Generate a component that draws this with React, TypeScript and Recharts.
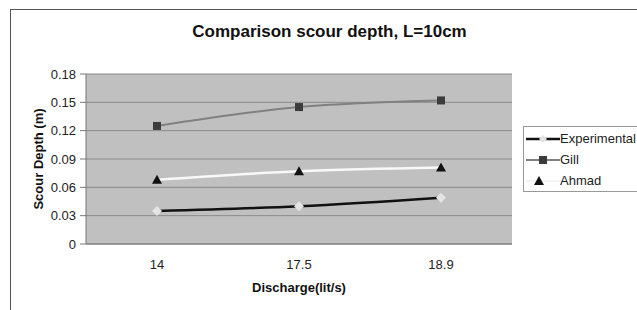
import { CartesianGrid, Line, LineChart, XAxis, YAxis } from 'recharts';

const discharge = ['14', '17.5', '18.9'];
const experimental = [0.035, 0.04, 0.049];
const gill = [0.125, 0.145, 0.152];
const ahmad = [0.068, 0.077, 0.081];
const yTicks = [0, 0.03, 0.06, 0.09, 0.12, 0.15, 0.18];
const bandTicks = [0, 1, 2, 3];

const data = discharge.map((q, i) => ({
  q,
  experimental: experimental[i],
  gill: gill[i],
  ahmad: ahmad[i],
}));

const FONT = '"Liberation Sans", Arial, sans-serif';

function diamond(props: any) {
  const { cx, cy } = props;
  return <polygon key={`d-${cx}`} points={`${cx},${cy - 5} ${cx + 5},${cy} ${cx},${cy + 5} ${cx - 5},${cy}`} fill="#e4e4e4" />;
}

function square(props: any) {
  const { cx, cy } = props;
  return <rect key={`s-${cx}`} x={cx - 4} y={cy - 4} width={8} height={8} fill="#3c3c3c" />;
}

function triangle(props: any) {
  const { cx, cy } = props;
  return <polygon key={`t-${cx}`} points={`${cx},${cy - 5} ${cx + 5},${cy + 4} ${cx - 5},${cy + 4}`} fill="#111" />;
}

function LegendBox() {
  const rows = [
    { name: 'Experimental', stroke: '#111', mark: (x: number, y: number) => <polygon points={`${x},${y - 4} ${x + 4},${y} ${x},${y + 4} ${x - 4},${y}`} fill="#e4e4e4" /> },
    { name: 'Gill', stroke: '#808080', mark: (x: number, y: number) => <rect x={x - 4} y={y - 4} width={8} height={8} fill="#3c3c3c" /> },
    { name: 'Ahmad', stroke: '#f4f4f4', mark: (x: number, y: number) => <polygon points={`${x - 4},${y - 5} ${x + 1},${y + 4} ${x - 9},${y + 4}`} fill="#111" /> },
  ];
  return (
    <div style={{ position: 'absolute', left: 523, top: 126, border: '1px solid #999', background: '#fff', width: 130, height: 64, fontFamily: FONT, fontSize: 13, color: '#222' }}>
      {rows.map((r, i) => (
        <div key={r.name} style={{ display: 'flex', alignItems: 'center', height: 21, marginTop: i === 0 ? 1 : 0 }}>
          <svg width={36} height={20}>
            <line x1={2} y1={10} x2={36} y2={10} stroke={r.stroke} strokeWidth={i === 0 ? 2.5 : 2} />
            {r.mark(19, 10)}
          </svg>
          <span>{r.name}</span>
        </div>
      ))}
    </div>
  );
}

export default function App() {
  return (
    <div style={{ position: 'absolute', left: 0, top: 0, width: 637, height: 310, overflow: 'hidden', background: '#fff' }}>
      <div style={{ position: 'absolute', left: 10, top: 9, width: 700, height: 400, border: '1px solid #555' }} />
      <div style={{ position: 'absolute', left: 0, top: 22, width: 659, textAlign: 'center', fontFamily: FONT, fontWeight: 'bold', fontSize: 17, color: '#111' }}>
        Comparison scour depth, L=10cm
      </div>
      <div style={{ position: 'absolute', left: 0, top: 0 }}>
        <LineChart width={637} height={310} data={data} margin={{ top: 74, right: 125, bottom: 10, left: 26 }}>
          <CartesianGrid vertical={false} fill="#c0c0c0" stroke="#8a8a8a" horizontalValues={yTicks} />
          <XAxis
            xAxisId="bands"
            type="number"
            domain={[0, 3]}
            ticks={bandTicks}
            tick={false}
            axisLine={false}
            tickSize={4}
            tickLine={{ stroke: '#666' }}
            height={0}
          />
          <XAxis
            dataKey="q"
            padding={{ left: 71, right: 71 }}
            tickLine={false}
            axisLine={{ stroke: '#777' }}
            tick={{ fill: '#222', fontSize: 13, fontFamily: FONT }}
            tickMargin={10}
            height={56}
            label={{ value: 'Discharge(lit/s)', position: 'insideBottom', offset: 8, fill: '#111', fontSize: 13, fontWeight: 'bold', fontFamily: FONT }}
          />
          <YAxis
            domain={[0, 0.18]}
            ticks={yTicks}
            width={60}
            tickSize={6}
            tickMargin={4}
            tickLine={{ stroke: '#777' }}
            axisLine={{ stroke: '#777' }}
            tick={{ fill: '#222', fontSize: 13, fontFamily: FONT }}
            label={{ value: 'Scour Depth (m)', angle: -90, position: 'insideLeft', offset: 0, dx: 12, textAnchor: 'middle', fill: '#111', fontSize: 13, fontWeight: 'bold', fontFamily: FONT }}
          />
          <Line type="monotone" dataKey="experimental" name="Experimental" stroke="#111" strokeWidth={2.5} dot={diamond} isAnimationActive={false} />
          <Line type="monotone" dataKey="gill" name="Gill" stroke="#808080" strokeWidth={2} dot={square} isAnimationActive={false} />
          <Line type="monotone" dataKey="ahmad" name="Ahmad" stroke="#f8f8f8" strokeWidth={2.5} dot={triangle} isAnimationActive={false} />
        </LineChart>
      </div>
      <LegendBox />
    </div>
  );
}
